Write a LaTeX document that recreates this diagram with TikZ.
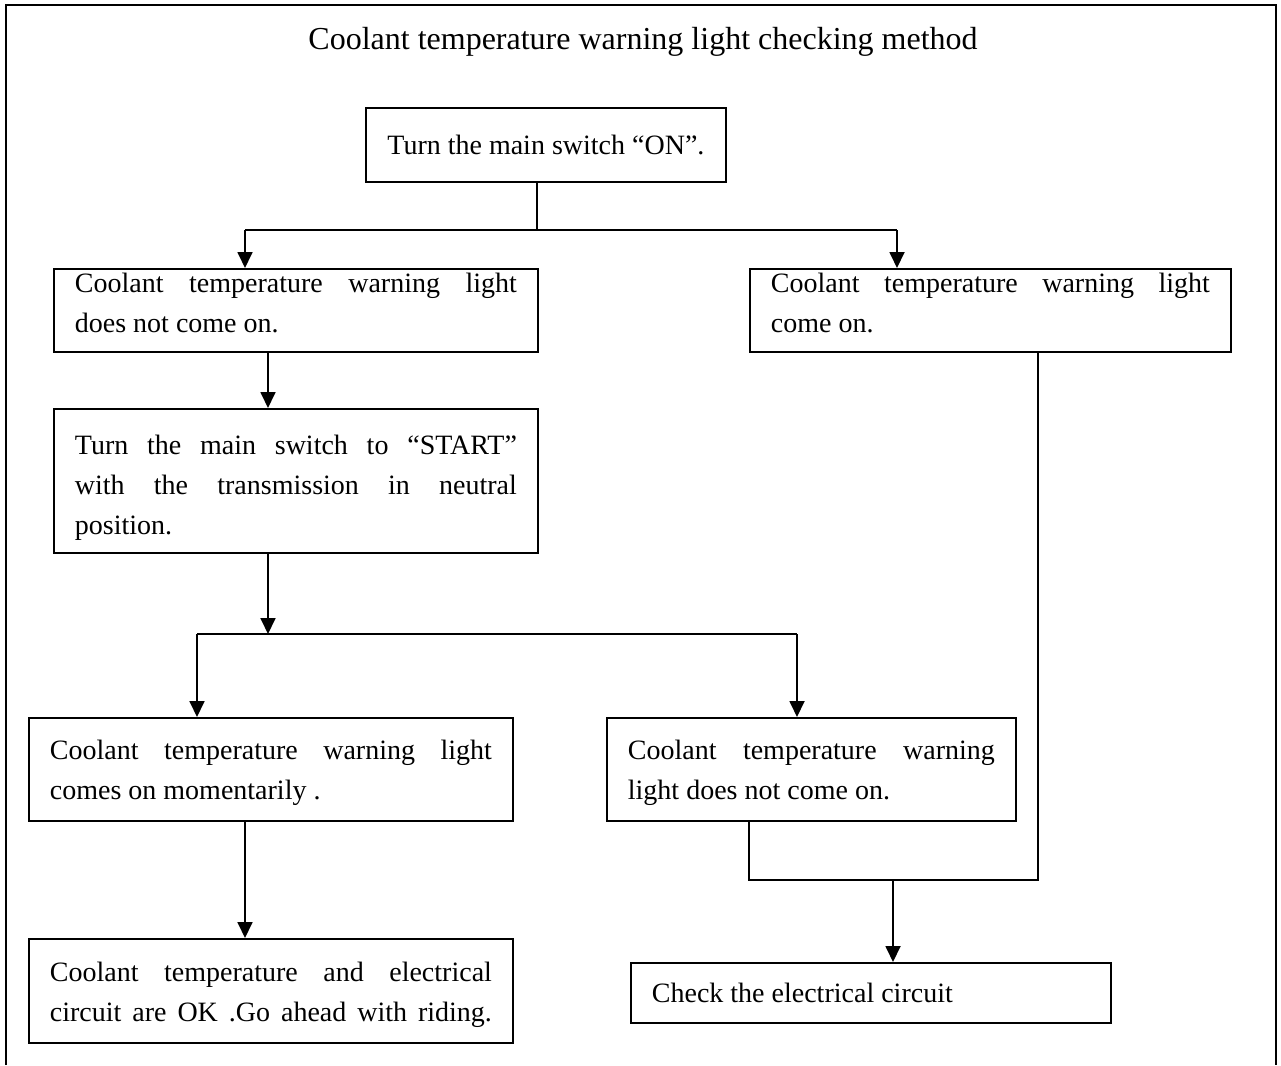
\documentclass[tikz,border=0pt]{standalone}
\usepackage{fontspec}
\setmainfont{Liberation Serif}
\usetikzlibrary{arrows.meta}

% body and heading sizes (1pt = 1 unit of the drawing grid)
\newcommand\bodyfont{\fontsize{28}{40}\selectfont}
\newcommand\headfont{\fontsize{32}{38}\selectfont}
% a fully justified line, spread over the whole text width
\newcommand\jline[1]{{\spaceskip=0pt\xspaceskip=0pt\makebox[\hsize][s]{#1}}}
% invisible struts that move a text block inside its frame
\newcommand\topgap[1]{\rule{0pt}{#1}}
\newcommand\botgap[1]{\rule[-#1]{0pt}{#1}}

\tikzset{
  box/.style={draw, line width=1.8pt, rectangle, anchor=north west,
              inner xsep=21pt, inner ysep=0pt, align=left, font=\bodyfont,
              execute at begin node={\spaceskip=0pt\xspaceskip=0pt}},
  wire/.style={line width=1.8pt},
  arr/.style={line width=1.8pt, -{Triangle[length=16pt,width=15pt]}},
}

\begin{document}
\begin{tikzpicture}[x=1pt, y=-1pt]
  \useasboundingbox (0,0) rectangle (1281,1065);

  % open frame around the chart
  \draw[line width=1.8pt] (6,1065) -- (6,5) -- (1276,5) -- (1276,1065);

  \node[font=\headfont, anchor=base] (title) at (643,50)
    {Coolant temperature warning light checking method};

  % steps
  \node[box, inner xsep=20pt, minimum width=360pt, minimum height=74pt] (on) at (365,107)
    {Turn the main switch “ON”.};
  \node[box, text width=442pt, minimum height=83pt] (off1) at (53,268)
    {\noindent\jline{Coolant temperature warning light}\\does not come on.\botgap{16pt}};
  \node[box, text width=439pt, minimum height=83pt] (lit1) at (749,268)
    {\noindent\jline{Coolant temperature warning light}\\come on.\botgap{16pt}};
  \node[box, text width=442pt, minimum height=144pt] (start) at (53,408)
    {\noindent\topgap{33pt}\jline{Turn the main switch to “START”}\\
     \jline{with the transmission in neutral}\\position.};
  \node[box, text width=442pt, minimum height=103pt] (mom) at (28,717)
    {\noindent\topgap{27pt}\jline{Coolant temperature warning light}\\comes on momentarily .};
  \node[box, text width=367pt, minimum height=103pt] (off2) at (606,717)
    {\noindent\topgap{27pt}\jline{Coolant temperature warning}\\light does not come on.};
  \node[box, text width=442pt, minimum height=104pt] (ok) at (28,938)
    {\noindent\topgap{27pt}\jline{Coolant temperature and electrical}\\
     \jline{circuit are OK .Go ahead with riding.}};
  \node[box, text width=438pt, minimum height=60pt] (check) at (630,962)
    {Check the electrical circuit};

  % junction points
  \coordinate (s0) at (537,230);
  \coordinate (s1) at (245,230);
  \coordinate (s2) at (897,230);
  \coordinate (k0) at (268,634);
  \coordinate (k1) at (197,634);
  \coordinate (k2) at (797,634);
  \coordinate (m0) at (245,900);
  \coordinate (j1) at (749,880);
  \coordinate (j2) at (1038,880);
  \coordinate (j3) at (893,880);

  % first branch
  \draw[wire] (s0 |- on.south) -- (s0);
  \draw[wire] (s1) -- (s2);
  \draw[arr] (s1) -- (s1 |- off1.north);
  \draw[arr] (s2) -- (s2 |- lit1.north);

  % left path
  \draw[arr] (k0 |- off1.south) -- (k0 |- start.north);
  \draw[arr] (k0 |- start.south) -- (k0);
  \draw[wire] (k1) -- (k2);
  \draw[arr] (k1) -- (k1 |- mom.north);
  \draw[arr] (k2) -- (k2 |- off2.north);
  \draw[arr] (m0 |- mom.south) -- (m0 |- ok.north);

  % both failures lead to the circuit check
  \draw[wire] (j1 |- off2.south) -- (j1) -- (j2) -- (j2 |- lit1.south);
  \draw[arr] (j3) -- (j3 |- check.north);
\end{tikzpicture}
\end{document}
